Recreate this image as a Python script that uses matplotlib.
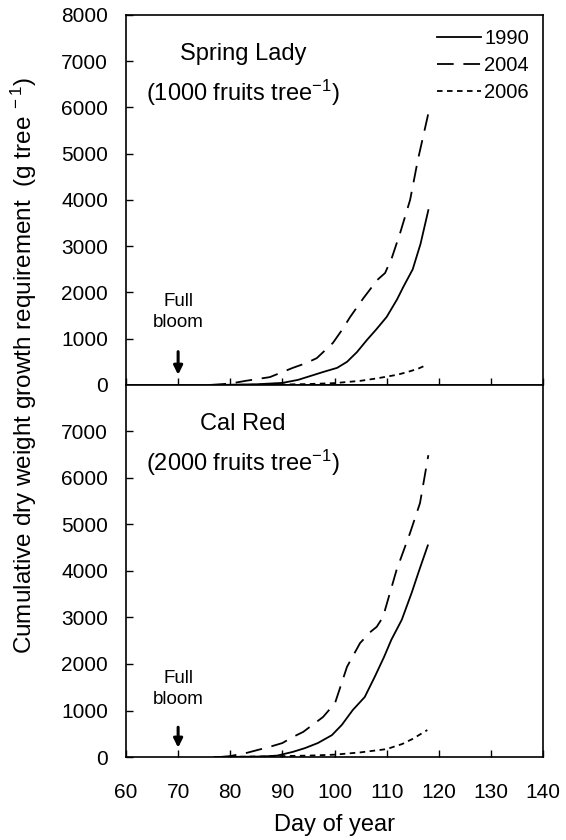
import matplotlib
matplotlib.use('Agg')
import matplotlib.pyplot as plt

plt.rcParams['font.family'] = ['Liberation Sans', 'DejaVu Sans']
plt.rcParams['mathtext.fontset'] = 'custom'
plt.rcParams['mathtext.rm'] = 'Liberation Sans'
plt.rcParams['mathtext.it'] = 'Liberation Sans'
plt.rcParams['lines.scale_dashes'] = False

# Spring Lady (top panel)
sl_day_1990 = [77, 80, 85, 90, 93, 96, 97.8, 100.5, 102.4, 104.3, 106.2, 108, 110, 112, 113.2, 115, 116.5, 118]
sl_val_1990 = [0, 5, 15, 45, 110, 216, 280, 370, 500, 710, 970, 1200, 1470, 1850, 2120, 2500, 3050, 3780]
sl_day_2004 = [76, 80, 83, 87.6, 92, 94.5, 96.6, 99.7, 101.5, 103, 105.5, 108.2, 109.7, 111, 112.6, 114.5, 116, 118]
sl_val_2004 = [0, 30, 90, 170, 370, 470, 580, 910, 1200, 1470, 1870, 2270, 2420, 2750, 3290, 4000, 4870, 5870]
sl_day_2006 = [78, 85, 90, 95, 100, 105, 108, 110, 112, 114, 116, 117.8]
sl_val_2006 = [0, 5, 10, 20, 40, 90, 140, 180, 220, 280, 350, 440]

# Cal Red (bottom panel)
cr_day_1990 = [77, 82, 86, 89, 92, 94.3, 96.8, 99.5, 101.4, 103.5, 105.8, 107.7, 109.5, 110.9, 112.9, 114.8, 116.2, 117.9]
cr_val_1990 = [0, 5, 10, 30, 110, 190, 300, 470, 690, 1010, 1290, 1720, 2150, 2520, 2950, 3530, 4000, 4550]
cr_day_2004 = [78, 80, 83.2, 87.6, 90, 92, 94, 97.8, 100.1, 102.4, 104.9, 107, 108.1, 109.3, 111.9, 114.5, 116.4, 118]
cr_val_2004 = [0, 20, 90, 220, 300, 430, 540, 860, 1160, 1940, 2450, 2700, 2800, 3010, 4020, 4820, 5460, 6490]
cr_day_2006 = [78, 85, 90, 95, 100, 105, 110, 113, 115, 117.8]
cr_val_2006 = [0, 10, 20, 30, 50, 100, 170, 280, 390, 580]

x_ticks = list(range(60, 141, 10))
y_ticks = list(range(0, 8001, 1000))

fig = plt.figure(figsize=(5.66, 8.4), dpi=100)
ax1 = fig.add_axes([0.2226, 0.5417, 0.7368, 0.4405])
ax2 = fig.add_axes([0.2226, 0.0988, 0.7368, 0.4429])

dash_long = (0, (12, 7))
dash_dot = (0, (4, 3.2))

panels = [
    (ax1, sl_day_1990, sl_val_1990, sl_day_2004, sl_val_2004, sl_day_2006, sl_val_2006,
     'Spring Lady', '(1000 fruits tree$^{-1}$)', 1580, 780, 160),
    (ax2, cr_day_1990, cr_val_1990, cr_day_2004, cr_val_2004, cr_day_2006, cr_val_2006,
     'Cal Red', '(2000 fruits tree$^{-1}$)', 1470, 700, 140),
]

for ax, d90, v90, d04, v04, d06, v06, name, fruits, fb_y, ar_top, ar_tip in panels:
    ax.plot(d90, v90, color='black', lw=1.3, label='1990')
    ax.plot(d04, v04, color='black', lw=1.3, linestyle=dash_long, label='2004')
    ax.plot(d06, v06, color='black', lw=1.3, linestyle=dash_dot, label='2006')
    ax.set_xlim(60, 140)
    ax.set_ylim(0, 8000)
    ax.set_xticks(x_ticks)
    ax.set_yticks(y_ticks)
    ax.tick_params(direction='in', length=5, width=1, labelsize=15)
    ax.tick_params(axis='y', pad=13)
    ax.tick_params(axis='x', pad=19)
    for s in ax.spines.values():
        s.set_linewidth(1.2)
    ax.text(0.28, 0.895, name, transform=ax.transAxes, ha='center', va='center', fontsize=17)
    ax.text(0.28, 0.79, fruits, transform=ax.transAxes, ha='center', va='center', fontsize=17)
    ax.text(70, fb_y, 'Full\nbloom', ha='center', va='center', fontsize=13.5, linespacing=1.3)
    ax.annotate('', xy=(70, ar_tip), xytext=(70, ar_top),
                arrowprops=dict(arrowstyle='-|>', lw=2.2, color='black', mutation_scale=13))

ax1.tick_params(labelbottom=False)
ax2.set_yticks(y_ticks[:-1])
ax2.set_xlabel('Day of year', fontsize=17, labelpad=8)

ax1.legend(loc='upper right', frameon=False, fontsize=14.5, handlelength=2.2,
           handletextpad=0.15, labelspacing=0.4, borderaxespad=0.4,
           borderpad=0.3)

fig.text(0.043, 0.565, 'Cumulative dry weight growth requirement  (g tree$^{\\ -1}$)',
         rotation=90, ha='center', va='center', fontsize=17.5,
         family=['Liberation Sans Narrow', 'Liberation Sans', 'DejaVu Sans'])

fig.savefig('out.png', dpi=100)
